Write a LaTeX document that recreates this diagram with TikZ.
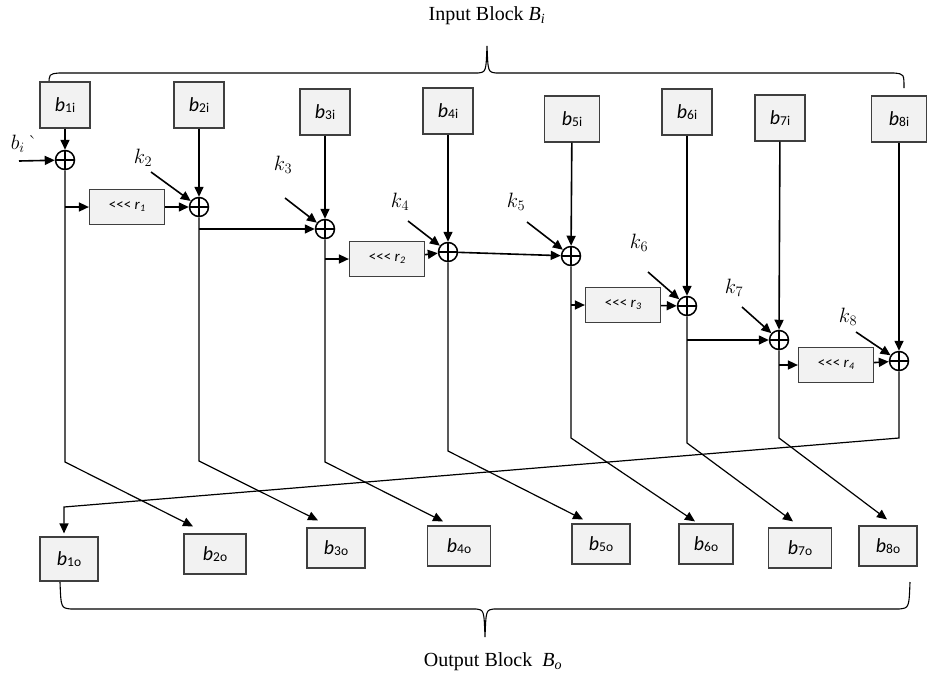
\documentclass[tikz,border=0pt]{standalone}
\usepackage{fontspec}
\usepackage{tikz}
\usetikzlibrary{
  arrows.meta,
  positioning,
  calc
}
\newfontfamily\cali{Carlito}
\newfontfamily\tnr{Liberation Serif}
\definecolor{caixacinza}{HTML}{F2F2F2}
\definecolor{bordacinza}{HTML}{3F3F3F}
\newcommand{\blab}[1]{{\fontsize{20}{22}\selectfont\itshape b}\raisebox{-1pt}{\fontsize{13.5}{14}\selectfont #1}}
\newcommand{\rlab}[1]{<<< \textit{r}\raisebox{-2pt}{\fontsize{10}{11}\selectfont\itshape #1}}

\begin{document}
\begin{tikzpicture}[
    x=1pt,y=-1pt,
    bloco/.style={
    draw=bordacinza,
    fill=caixacinza,
    line width=1.2pt,
    minimum width=50pt,
    minimum height=46pt,
    inner sep=0pt,
    font=\cali
    },
    saida/.style={bloco,minimum width=58pt,minimum height=40pt},
    rot/.style={
    draw=bordacinza,
    fill=caixacinza,
    line width=1.2pt,
    minimum width=75pt,
    minimum height=35pt,
    inner sep=0pt,
    font=\cali\fontsize{15}{17}\selectfont
    },
    xor/.style={
    circle,
    draw,
    line width=1.5pt,
    minimum size=19pt,
    inner sep=0pt,
    path picture={
    \draw[line width=1.5pt]
    (path picture bounding box.north)--(path picture bounding box.south)
    (path picture bounding box.west)--(path picture bounding box.east);}
    },
    chave/.style={font=\fontsize{20}{22}\selectfont},
    titulo/.style={font=\tnr\fontsize{20}{24}\selectfont},
    seta/.style={-{Triangle[length=10pt,width=9pt]},line width=1.6pt},
    fio/.style={-{Triangle[length=10pt,width=9pt]},line width=1.2pt},
    chaveta/.style={line width=1.1pt}
    ]

    \useasboundingbox (0,0) rectangle (929,673);

    \node[titulo] (tin) at (487,16) {Input Block \textit{B}\textsubscript{\textit{i}}};
    \node[titulo] (tout) at (493,662) {Output Block \ \textit{B}\textsubscript{\textit{o}}};

    \draw[chaveta] (49,85) .. controls (49,74) .. (59,73) -- (478,73)
      .. controls (486,72) .. (487,46) .. controls (488,72) .. (496,73)
      -- (894,73) .. controls (904,74) .. (904,88);
    \draw[chaveta] (60,582) .. controls (61,608) .. (71,609) -- (476,609)
      .. controls (484,610) .. (485,637) .. controls (486,610) .. (494,609)
      -- (899,609) .. controls (909,608) .. (910,582);

    \node[bloco] (b1i) at (65,105) {\blab{1i}};
    \node[bloco] (b2i) at (199,105) {\blab{2i}};
    \node[bloco] (b3i) at (325,112) {\blab{3i}};
    \node[bloco] (b4i) at (448,111) {\blab{4i}};
    \node[bloco,minimum width=55pt] (b5i) at (572,119) {\blab{5i}};
    \node[bloco] (b6i) at (687,112) {\blab{6i}};
    \node[bloco] (b7i) at (780,118) {\blab{7i}};
    \node[bloco,minimum width=55pt] (b8i) at (899,119) {\blab{8i}};

    \node[xor] (x1) at (65,160) {};
    \node[xor] (x2) at (199,207) {};
    \node[xor] (x3) at (325,229) {};
    \node[xor] (x4) at (448,252) {};
    \node[xor] (x5) at (571,256) {};
    \node[xor] (x6) at (687,306) {};
    \node[xor] (x7) at (779,340) {};
    \node[xor] (x8) at (899,361) {};

    \node[rot] (r1) at (127,207) {\rlab{1}};
    \node[rot] (r2) at (387,259) {\rlab{2}};
    \node[rot] (r3) at (623,305) {\rlab{3}};
    \node[rot] (r4) at (836,365) {\rlab{4}};

    \node[saida,minimum height=44pt] (b1o) at (69,559) {\blab{1o}};
    \node[saida,minimum width=62pt] (b2o) at (215,554) {\blab{2o}};
    \node[saida] (b3o) at (336,548) {\blab{3o}};
    \node[saida,minimum width=63pt] (b4o) at (459,546) {\blab{4o}};
    \node[saida] (b5o) at (601,544) {\blab{5o}};
    \node[saida,minimum width=54pt] (b6o) at (706,544) {\blab{6o}};
    \node[saida,minimum width=63pt] (b7o) at (800,548) {\blab{7o}};
    \node[saida] (b8o) at (888,546) {\blab{8o}};

    \node[chave] (bi) at (24,144) {$b_i$\,\textasciigrave};
    \node[chave] (k2) at (143,158) {$k_2$};
    \node[chave] (k3) at (283,165) {$k_3$};
    \node[chave] (k4) at (400,202) {$k_4$};
    \node[chave] (k5) at (516,202) {$k_5$};
    \node[chave] (k6) at (639,243) {$k_6$};
    \node[chave] (k7) at (734,288) {$k_7$};
    \node[chave] (k8) at (848,317) {$k_8$};

    \coordinate (bia) at (19,161);
    \coordinate (k2a) at (151,172);
    \coordinate (k3a) at (285,198);
    \coordinate (k4a) at (408,221);
    \coordinate (k5a) at (527,222);
    \coordinate (k6a) at (648,272);
    \coordinate (k7a) at (742,307);
    \coordinate (k8a) at (856,332);

    \coordinate (d1) at (65,462);
    \coordinate (d2) at (199,461);
    \coordinate (d3) at (325,462);
    \coordinate (d4) at (448,451);
    \coordinate (d5) at (571,438);
    \coordinate (d6) at (687,443);
    \coordinate (d7) at (779,438);
    \coordinate (d8) at (899,438);
    \coordinate (e1) at (64,507);

    \draw[seta] (b1i)--(x1);
    \draw[seta] (b2i)--(x2);
    \draw[seta] (b3i)--(x3);
    \draw[seta] (b4i)--(x4);
    \draw[seta] (b5i)--(x5);
    \draw[seta] (b6i)--(x6);
    \draw[seta] (b7i)--(x7);
    \draw[seta] (b8i)--(x8);

    \draw[seta] (bia)--(x1);
    \draw[seta] (k2a)--(x2);
    \draw[seta] (k3a)--(x3);
    \draw[seta] (k4a)--(x4);
    \draw[seta] (k5a)--(x5);
    \draw[seta] (k6a)--(x6);
    \draw[seta] (k7a)--(x7);
    \draw[seta] (k8a)--(x8);

    \draw[seta] (x1 |- r1)--(r1);
    \draw[seta] (r1)--(x2);
    \draw[seta] (x2 |- x3)--(x3);
    \draw[seta] (x3 |- r2)--(r2);
    \draw[seta] (r2)--(x4);
    \draw[seta] (x4)--(x5);
    \draw[seta] (x5 |- r3)--(r3);
    \draw[seta] (r3)--(x6);
    \draw[seta] (x6 |- x7)--(x7);
    \draw[seta] (x7 |- r4)--(r4);
    \draw[seta] (r4)--(x8);

    \draw[fio] (x1)--(d1)--([xshift=-22pt,yshift=7pt]b2o.north);
    \draw[fio] (x2)--(d2)--([xshift=-18pt,yshift=7pt]b3o.north);
    \draw[fio] (x3)--(d3)--([xshift=-16pt,yshift=4pt]b4o.north);
    \draw[fio] (x4)--(d4)--([xshift=-18pt,yshift=4pt]b5o.north);
    \draw[fio] (x5)--(d5)--([xshift=-11pt,yshift=2pt]b6o.north);
    \draw[fio] (x6)--(d6)--([xshift=-7pt,yshift=6pt]b7o.north);
    \draw[fio] (x7)--(d7)--([xshift=-1pt,yshift=6pt]b8o.north);
    \draw[fio] (x8)--(d8)--(e1)--([xshift=-5pt,yshift=3pt]b1o.north);

    \end{tikzpicture}
\end{document}
